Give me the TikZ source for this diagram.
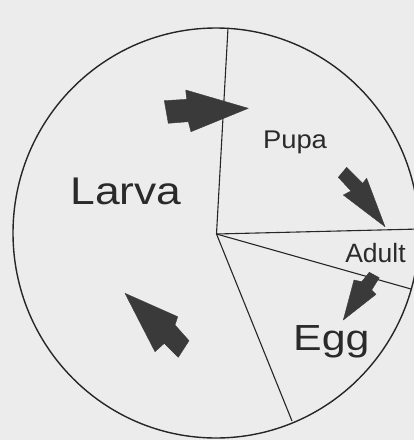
\documentclass[tikz,border=0pt]{standalone}
\usepackage{fontspec}
\setmainfont{Liberation Sans}
\definecolor{paper}{HTML}{ECECEC}
\definecolor{inkline}{HTML}{262626}
\definecolor{arrowfill}{HTML}{3A3A3A}
\definecolor{labeltext}{HTML}{2A2A2A}
\begin{document}
\begin{tikzpicture}[x=1pt,y=-1pt,
  rim/.style={draw=inkline, line width=1.4pt},
  divider/.style={draw=inkline, line width=1.1pt},
  blockarrow/.style={fill=arrowfill, draw=arrowfill, line width=0.4pt, line join=round},
  stage/.style={anchor=base, inner sep=0pt, text=labeltext}]
\path[use as bounding box, fill=paper] (0,0) rectangle (414,440);
\begin{scope}
\clip (0,0) rectangle (414,440);
% wheel
\draw[rim] (216,233) ellipse [x radius=203, y radius=205];
\coordinate (hub) at (216.5,234);
\coordinate (top) at (228,28);
\coordinate (right) at (420,229);
\coordinate (lowright) at (411,289);
\coordinate (bottom) at (292,421);
\draw[divider] (hub) -- (top);
\draw[divider] (hub) -- (right);
\draw[divider] (hub) -- (lowright);
\draw[divider] (hub) -- (bottom);
% labels
\node[stage, font=\fontsize{38.6}{40}\selectfont] (larva) at (126,204.3) {\scalebox{1.15}[1]{Larva}};
\node[stage, font=\fontsize{25.6}{27}\selectfont] (pupa) at (295,148.3) {\scalebox{1.07}[1]{Pupa}};
\node[stage, font=\fontsize{26.5}{28}\selectfont] (adult) at (375.5,262.3) {Adult};
\node[stage, font=\fontsize{36.3}{38}\selectfont] (egg) at (331.3,350) {\scalebox{1.18}[1]{Egg}};
% block arrows
\filldraw[blockarrow] (164.3,100.7) -- (186.7,99.3) -- (185.7,90) -- (248.3,108.3)
  -- (191,131.7) -- (188.3,121.7) -- (168.3,123.3) -- cycle;
\filldraw[blockarrow] (338.3,177.3) -- (346.7,167.3) -- (362.7,183.3) -- (366.7,178.3)
  -- (385,226.7) -- (343.3,195) -- (351,191) -- cycle;
\filldraw[blockarrow] (369.3,272.3) -- (379.3,277.7) -- (371.7,290) -- (376,294.3)
  -- (343.3,320) -- (354,280) -- (361.7,281.7) -- cycle;
\filldraw[blockarrow] (125,293.3) -- (177.7,316.7) -- (175,325) -- (189,340.7)
  -- (178.3,357.3) -- (164.3,343.3) -- (155,351.7) -- cycle;
\end{scope}
\end{tikzpicture}
\end{document}
